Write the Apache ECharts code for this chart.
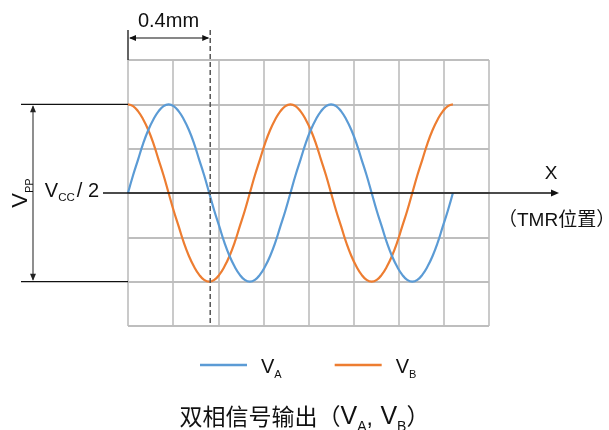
<!DOCTYPE html>
<html><head><meta charset="utf-8">
<script src="https://cdn.jsdelivr.net/npm/echarts@6/dist/echarts.min.js"></script>
<style>html,body{margin:0;padding:0;background:#fff}#c{width:609px;height:430px}</style>
</head><body><div id="c"></div>
<script>
// position along the track (mm)
var positions = [0,0.025,0.05,0.075,0.1,0.125,0.15,0.175,0.2,0.225,0.25,0.275,0.3,0.325,0.35,0.375,0.4,0.425,0.45,0.475,0.5,0.525,0.55,0.575,0.6,0.625,0.65,0.675,0.7,0.725,0.75,0.775,0.8,0.825,0.85,0.875,0.9,0.925,0.95,0.975,1.0,1.025,1.05,1.075,1.1,1.125,1.15,1.175,1.2,1.225,1.25,1.275,1.3,1.325,1.35,1.375,1.4,1.425,1.45,1.475,1.5,1.525,1.55,1.575,1.6];
// VA, relative to Vcc/2, in units of Vpp/2
var vA = [0,0.20,0.38,0.56,0.71,0.83,0.92,0.98,1,0.98,0.92,0.83,0.71,0.56,0.38,0.20,0,-0.20,-0.38,-0.56,-0.71,-0.83,-0.92,-0.98,-1,-0.98,-0.92,-0.83,-0.71,-0.56,-0.38,-0.20,
          0,0.20,0.38,0.56,0.71,0.83,0.92,0.98,1,0.98,0.92,0.83,0.71,0.56,0.38,0.20,0,-0.20,-0.38,-0.56,-0.71,-0.83,-0.92,-0.98,-1,-0.98,-0.92,-0.83,-0.71,-0.56,-0.38,-0.20,0];
// VB, relative to Vcc/2, in units of Vpp/2
var vB = [1,0.98,0.92,0.83,0.71,0.56,0.38,0.20,0,-0.20,-0.38,-0.56,-0.71,-0.83,-0.92,-0.98,-1,-0.98,-0.92,-0.83,-0.71,-0.56,-0.38,-0.20,0,0.20,0.38,0.56,0.71,0.83,0.92,0.98,
          1,0.98,0.92,0.83,0.71,0.56,0.38,0.20,0,-0.20,-0.38,-0.56,-0.71,-0.83,-0.92,-0.98,-1,-0.98,-0.92,-0.83,-0.71,-0.56,-0.38,-0.20,0,0.20,0.38,0.56,0.71,0.83,0.92,0.98,1];
var seriesNames = ['VA','VB'];
var halfPeriod = 0.4; // mm, marked span
var xMin = 0, xMax = 16/9, xStep = 2/9;
var yMin = -1.5, yMax = 1.5, yStep = 0.5;

var LAT = 'Liberation Sans, Arial, Noto Sans CJK SC, sans-serif';
function pairs(ys){ return positions.map(function(x,i){return [x, ys[i]];}); }

var chart = echarts.init(document.getElementById('c'), null, {renderer:'canvas'});
chart.setOption({
  animation:false,
  title:{
    text:'双相信号输出（{v|V}{s|A}{c|, }{v|V}{s|B}）',
    left:'center', top:397,
    textStyle:{fontFamily:'Noto Sans CJK SC, sans-serif',fontSize:23,fontWeight:'normal',color:'#111',
      rich:{v:{fontFamily:LAT,fontSize:25,color:'#111',lineHeight:28,verticalAlign:'bottom'},
            s:{fontFamily:LAT,fontSize:14,color:'#111',lineHeight:28,verticalAlign:'bottom',padding:[0,0,-4,0]},
            c:{fontFamily:LAT,fontSize:23,color:'#111',lineHeight:28,verticalAlign:'bottom',padding:[0,1,0,0]}}}
  },
  legend:{
    left:200, top:357, padding:0, itemGap:53, icon:'rect', itemWidth:47, itemHeight:2.5,
    data:seriesNames,
    formatter:function(n){return '{v|V}{s|'+n.slice(1)+'}';},
    textStyle:{padding:[0,0,0,9],rich:{
      v:{fontFamily:LAT,fontSize:20,color:'#111',lineHeight:24,verticalAlign:'bottom'},
      s:{fontFamily:LAT,fontSize:11,color:'#111',lineHeight:24,verticalAlign:'bottom',padding:[0,0,-3,0]}}}
  },
  grid:{left:128, top:60, width:361, height:266, show:false},
  xAxis:{type:'value',min:xMin,max:xMax,interval:xStep,
    axisLine:{show:false},axisTick:{show:false},axisLabel:{show:false},
    splitLine:{show:true,lineStyle:{color:'#bdbdbd',width:1.6}}},
  yAxis:{type:'value',min:yMin,max:yMax,interval:yStep,
    axisLine:{show:false},axisTick:{show:false},axisLabel:{show:false},
    splitLine:{show:true,lineStyle:{color:'#a8a8a8',width:1.5}}},
  series:[
    {name:'VA',type:'line',data:pairs(vA),smooth:true,showSymbol:false,symbol:'none',
     lineStyle:{color:'#5B9BD5',width:2.2},itemStyle:{color:'#5B9BD5'},z:3},
    {name:'VB',type:'line',data:pairs(vB),smooth:true,showSymbol:false,symbol:'none',
     lineStyle:{color:'#ED7D31',width:2.2},itemStyle:{color:'#ED7D31'},z:2}
  ]
});

function px(x,y){return chart.convertToPixel({gridIndex:0},[x,y]);}
var o = px(0,0), top1 = px(0,1), bot1 = px(0,-1), dTop = px(halfPeriod, yMax), dBot = px(halfPeriod, yMin);
var gTop = px(0,yMax)[1];
var cy = o[1];
function arrowHead(tx,ty,dir,len,hw,color){
  var pts;
  if(dir==='r') pts=[[tx,ty],[tx-len,ty-hw],[tx-len,ty+hw]];
  if(dir==='l') pts=[[tx,ty],[tx+len,ty-hw],[tx+len,ty+hw]];
  if(dir==='u') pts=[[tx,ty],[tx-hw,ty+len],[tx+hw,ty+len]];
  if(dir==='d') pts=[[tx,ty],[tx-hw,ty-len],[tx+hw,ty-len]];
  return {type:'polygon',shape:{points:pts},style:{fill:color},z:10};
}
var g = [];
// center axis line with arrow
g.push({type:'line',shape:{x1:103,y1:cy,x2:553,y2:cy},style:{stroke:'#111',lineWidth:1.3},z:10});
g.push(arrowHead(559,cy,'r',8,3.5,'#111'));
// Vpp reference lines
g.push({type:'line',shape:{x1:21,y1:top1[1],x2:o[0],y2:top1[1]},style:{stroke:'#111',lineWidth:1.3},z:10});
g.push({type:'line',shape:{x1:21,y1:bot1[1],x2:o[0],y2:bot1[1]},style:{stroke:'#111',lineWidth:1.3},z:10});
g.push({type:'line',shape:{x1:33,y1:top1[1]+2,x2:33,y2:bot1[1]-2},style:{stroke:'#444',lineWidth:1.2},z:10});
g.push(arrowHead(33,top1[1]+1,'u',7,3,'#222'));
g.push(arrowHead(33,bot1[1]-1,'d',7,3,'#222'));
// Vpp label rotated
g.push({type:'text',x:19,y:cy,rotation:Math.PI/2,
  style:{text:'{v|V}{s|PP}',align:'center',verticalAlign:'middle',
    rich:{v:{fontFamily:LAT,fontSize:22,fill:'#111',lineHeight:26,verticalAlign:'bottom'},
          s:{fontFamily:LAT,fontSize:11,fill:'#111',lineHeight:26,verticalAlign:'bottom',padding:[0,0,-3,0]}}},z:10});
// Vcc/2 label
g.push({type:'text',x:99,y:cy-4,
  style:{text:'{v|V}{s|CC}{v|/ 2}',align:'right',verticalAlign:'middle',
    rich:{v:{fontFamily:LAT,fontSize:20,fill:'#111',lineHeight:24,verticalAlign:'bottom'},
          s:{fontFamily:LAT,fontSize:11.5,fill:'#111',lineHeight:24,verticalAlign:'bottom',padding:[0,2,-3,0]}}},z:10});
// 0.4mm dimension
g.push({type:'line',shape:{x1:o[0],y1:30,x2:o[0],y2:gTop},style:{stroke:'#111',lineWidth:1.3},z:10});
g.push({type:'line',shape:{x1:dTop[0]+1,y1:30,x2:dBot[0]+1,y2:dBot[1]},style:{stroke:'#555',lineWidth:1.5,lineDash:[5,3]},z:10});
g.push({type:'line',shape:{x1:o[0]+2,y1:38,x2:dTop[0]-1,y2:38},style:{stroke:'#111',lineWidth:1.2},z:10});
g.push(arrowHead(o[0]+1,38,'l',7,3,'#111'));
g.push(arrowHead(dTop[0],38,'r',7,3,'#111'));
g.push({type:'text',x:168.5,y:21,style:{text:'0.4mm',align:'center',verticalAlign:'middle',fontFamily:LAT,fontSize:20,fill:'#111'},z:10});
// X label
g.push({type:'text',x:551,y:174,style:{text:'X',align:'center',verticalAlign:'middle',fontFamily:LAT,fontSize:19,fill:'#111'},z:10});
g.push({type:'text',x:498,y:221,style:{text:'（TMR位置）',align:'left',verticalAlign:'middle',fontFamily:'Liberation Sans, Noto Sans CJK SC, sans-serif',fontSize:19,fill:'#111'},z:10});
chart.setOption({graphic:{elements:g}});
</script>
</body></html>
